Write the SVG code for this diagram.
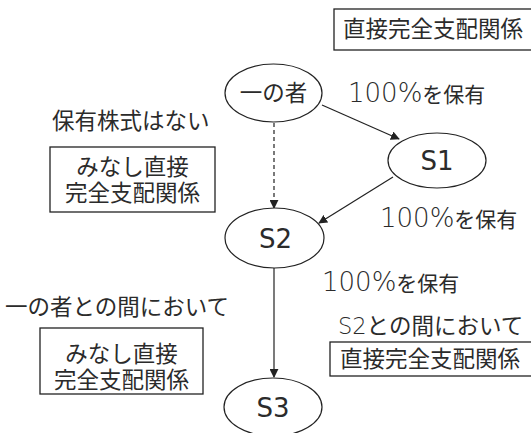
<svg xmlns="http://www.w3.org/2000/svg" width="531" height="433" viewBox="0 0 531 433">
<style>
text{font-family:"Noto Sans CJK JP","Noto Sans",sans-serif;font-size:22.5px;fill:#2b2b2b}
.c{text-anchor:middle}
.lat{font-family:"DejaVu Sans",sans-serif;font-weight:200}
.nl{font-family:"DejaVu Sans",sans-serif;font-size:26px}
.own{font-size:21px}
.own .d{font-family:"DejaVu Sans",sans-serif;font-weight:200;font-size:26px}
.n ellipse{fill:#fff;stroke:#222;stroke-width:1.2}
.box{fill:#fff;stroke:#222;stroke-width:1.3}
.e{stroke:#222;stroke-width:1.2;fill:none}
</style>
<defs>
<marker id="ah" viewBox="0 0 10 10" refX="9" refY="5" markerWidth="9" markerHeight="9" markerUnits="userSpaceOnUse" orient="auto"><path d="M0,0L10,5L0,10z" fill="#222"/></marker>
</defs>
<g id="connectors">
<line class="e" x1="322" y1="105" x2="399" y2="139" marker-end="url(#ah)"/>
<line class="e" x1="393" y1="177" x2="319" y2="223" marker-end="url(#ah)"/>
<line class="e" x1="274" y1="123" x2="274" y2="208" stroke-dasharray="4,3" marker-end="url(#ah)"/>
<line class="e" x1="274" y1="268" x2="274" y2="377" marker-end="url(#ah)"/>
</g>
<g id="n0" class="n"><ellipse cx="273.5" cy="93" rx="48.5" ry="29"/><text class="c" x="273.5" y="101">一の者</text></g>
<g id="n1" class="n"><ellipse cx="437" cy="160.5" rx="49" ry="27.5"/><text class="c nl" x="437" y="170">S1</text></g>
<g id="n2" class="n"><ellipse cx="274.5" cy="238" rx="49.5" ry="30"/><text class="c nl" x="275.5" y="248">S2</text></g>
<g id="n3" class="n"><ellipse cx="273" cy="407" rx="49" ry="29"/><text class="c nl" x="273" y="417">S3</text></g>
<g id="lbl-top"><rect class="box" x="334" y="9" width="210" height="41"/><text x="343" y="37">直接完全支配関係</text></g>
<g id="lbl-own1"><text class="own" x="348" y="102"><tspan class="d">100%</tspan>を保有</text></g>
<g id="lbl-own2"><text class="own" x="380" y="227"><tspan class="d">100%</tspan>を保有</text></g>
<g id="lbl-own3"><text class="own" x="322" y="291"><tspan class="d">100%</tspan>を保有</text></g>
<g id="lbl-noshares"><text x="52" y="129">保有株式はない</text></g>
<g id="box1"><rect class="box" x="50" y="147" width="165" height="65"/><text class="c" x="132.5" y="175">みなし直接</text><text class="c" x="132.5" y="201">完全支配関係</text></g>
<g id="lbl-between1"><text x="5" y="315">一の者との間において</text></g>
<g id="box2"><rect class="box" x="40" y="328" width="163" height="66"/><text class="c" x="121.5" y="362">みなし直接</text><text class="c" x="121.5" y="388">完全支配関係</text></g>
<g id="lbl-between2"><text x="338" y="334"><tspan class="lat">S2</tspan>との間において</text></g>
<g id="box3"><rect class="box" x="330" y="342" width="215" height="34"/><text x="340" y="367">直接完全支配関係</text></g>
</svg>
